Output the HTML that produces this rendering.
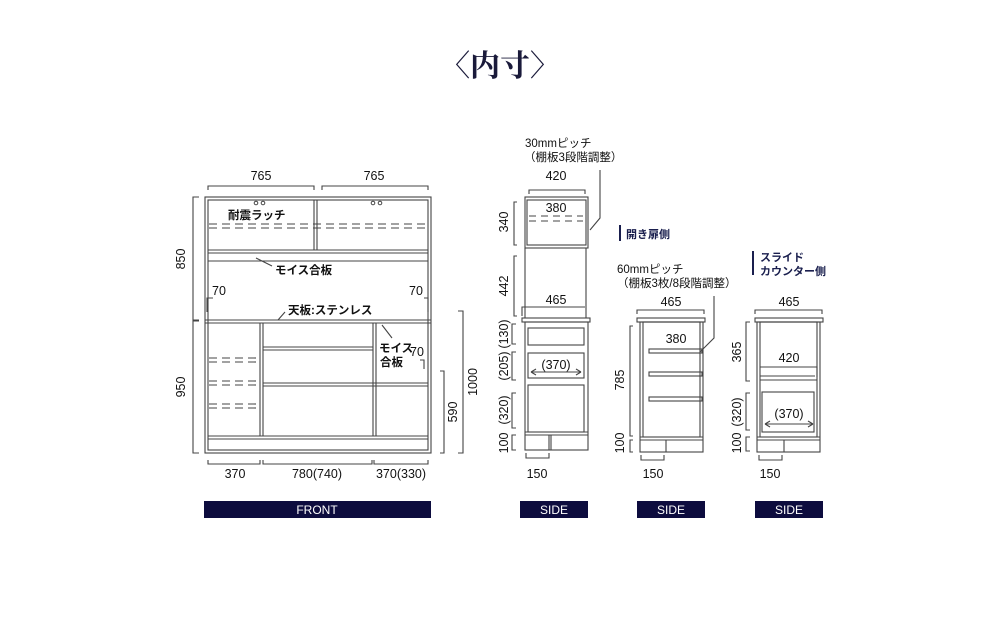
<!DOCTYPE html>
<html><head><meta charset="utf-8"><style>
html,body{margin:0;padding:0;background:#fff;}
svg{display:block;}
text{font-family:"Liberation Sans","Noto Sans CJK JP",sans-serif;fill:#111;}
</style></head><body>
<svg width="1000" height="621" viewBox="0 0 1000 621" xmlns="http://www.w3.org/2000/svg">
<text x="500" y="76" text-anchor="middle" style="font-family:'Liberation Serif','Noto Serif CJK SC',serif;font-size:30px;fill:#1a1a3a;font-weight:bold">〈内寸〉</text>

<g fill="none" stroke="#444" stroke-width="1.1">
<rect x="205" y="197" width="226" height="256"/>
<rect x="208" y="200" width="220" height="250"/>
<line x1="205" y1="320" x2="431" y2="320"/>
<line x1="205" y1="323" x2="431" y2="323"/>
<line x1="314" y1="200" x2="314" y2="250"/><line x1="317" y1="200" x2="317" y2="250"/>
<line x1="208" y1="250" x2="428" y2="250"/><line x1="208" y1="253" x2="428" y2="253"/><line x1="208" y1="261" x2="428" y2="261"/>
<line x1="260" y1="323" x2="260" y2="436"/><line x1="263" y1="323" x2="263" y2="436"/>
<line x1="373" y1="323" x2="373" y2="436"/><line x1="376" y1="323" x2="376" y2="436"/>
<line x1="263" y1="347" x2="373" y2="347"/><line x1="263" y1="350" x2="373" y2="350"/>
<line x1="263" y1="383" x2="428" y2="383"/><line x1="263" y1="386" x2="428" y2="386"/>
<line x1="208" y1="436" x2="428" y2="436"/><line x1="208" y1="439" x2="428" y2="439"/>
<g stroke-dasharray="8,5"><line x1="209" y1="224" x2="428" y2="224"/><line x1="209" y1="228" x2="428" y2="228"/>
<line x1="209" y1="358" x2="260" y2="358"/><line x1="209" y1="362" x2="260" y2="362"/>
<line x1="209" y1="381" x2="260" y2="381"/><line x1="209" y1="385" x2="260" y2="385"/>
<line x1="209" y1="404" x2="260" y2="404"/><line x1="209" y1="408" x2="260" y2="408"/></g>
<path d="M208 190V186H314V190M322 190V186H428V190"/>
<path d="M199 197H193V320H199M199 321H193V453H199"/>
<path d="M458 311H463V453H458M440 371H444V453H440"/>
<path d="M208 460V464H260V460M263 460V464H372V460M374 460V464H428V460"/>
<path d="M207 312V298H213M428 312V298H424M424 369V360H420"/>
<path d="M256 258L272 266M278 320L285 312M382 325L392 338"/>
<rect x="525" y="197" width="63" height="51"/><rect x="527" y="200" width="59" height="45"/>
<path d="M525 248V318M586 248V318M527 248H586"/>
<rect x="522" y="318" width="68" height="4"/>
<rect x="525" y="322" width="63" height="128"/>
<rect x="528" y="328" width="56" height="17"/><rect x="528" y="353" width="56" height="25"/><rect x="528" y="385" width="56" height="47"/>
<path d="M525 432H588M525 435H588M549 435V450M551 435V450"/>
<path d="M529 216H583M529 221H583" stroke-dasharray="7,5"/>
<path d="M529 194V190H585V194M517 202H514V245H517M517 256H514V316H517M516 324H512V344H516M516 352H512V380H516M516 393H512V428H516M516 435H512V450H516M526 453V458H549V453M522 316V307H585"/>
<path d="M590 230L600 218V170"/>
<path d="M531 372H581M531 372l5-3M531 372l5 3M581 372l-5-3M581 372l-5 3"/>
<rect x="637" y="318" width="68" height="4"/>
<rect x="640" y="322" width="63" height="130"/><rect x="643" y="322" width="57" height="115"/>
<path d="M640 437H703M640 440H703M666 440V452"/>
<rect x="649" y="349" width="53" height="4"/><rect x="649" y="372" width="53" height="4"/><rect x="649" y="397" width="53" height="4"/>
<path d="M637 314V310H704V314M633 326H630V436H633M633 440H630V452H633M641 455V460H664V455"/>
<path d="M700 352L714 338V296"/>
<rect x="755" y="318" width="68" height="4"/>
<rect x="757" y="322" width="63" height="130"/><rect x="760" y="322" width="57" height="115"/>
<path d="M760 367H817V377M760 376H815M760 380H817"/>
<rect x="762" y="392" width="52" height="40"/>
<path d="M757 437H820M757 440H820M784 440V452"/>
<path d="M755 314V310H822V314M750 322H746V381H750M750 393H746V430H750M750 437H746V451H750M759 455V460H782V455"/>
<path d="M765 424H813M765 424l5-3M765 424l5 3M813 424l-5-3M813 424l-5 3"/>
</g>
<g fill="none" stroke="#444"><circle cx="373" cy="203" r="1.8"/><circle cx="380" cy="203" r="1.8"/><circle cx="256" cy="203" r="1.8"/><circle cx="263" cy="203" r="1.8"/></g>

<g font-size="12.5" text-anchor="middle">
<text x="261" y="180">765</text><text x="374" y="180">765</text>
<text x="235" y="478">370</text><text x="317" y="478">780(740)</text><text x="401" y="478">370(330)</text>
<text x="219" y="295">70</text><text x="416" y="295">70</text><text x="417" y="356">70</text>
<text x="556" y="180">420</text><text x="556" y="212">380</text><text x="556" y="304">465</text><text x="556" y="369">(370)</text><text x="537" y="478">150</text>
<text x="671" y="306">465</text><text x="676" y="343">380</text><text x="653" y="478">150</text>
<text x="789" y="306">465</text><text x="789" y="362">420</text><text x="789" y="418">(370)</text><text x="770" y="478">150</text>
</g>
<g font-size="12.5" text-anchor="middle">
<text transform="translate(185 259) rotate(-90)">850</text>
<text transform="translate(185 387) rotate(-90)">950</text>
<text transform="translate(477 382) rotate(-90)">1000</text>
<text transform="translate(457 412) rotate(-90)">590</text>
<text transform="translate(508 222) rotate(-90)">340</text>
<text transform="translate(508 286) rotate(-90)">442</text>
<text transform="translate(508 334) rotate(-90)">(130)</text>
<text transform="translate(508 366) rotate(-90)">(205)</text>
<text transform="translate(508 410) rotate(-90)">(320)</text>
<text transform="translate(508 443) rotate(-90)">100</text>
<text transform="translate(624 380) rotate(-90)">785</text>
<text transform="translate(624 443) rotate(-90)">100</text>
<text transform="translate(741 352) rotate(-90)">365</text>
<text transform="translate(741 412) rotate(-90)">(320)</text>
<text transform="translate(741 443) rotate(-90)">100</text>
</g>
<g font-size="11.5" font-weight="bold">
<text x="228" y="219">耐震ラッチ</text>
<text x="275" y="274">モイス合板</text>
<text x="288" y="314">天板:ステンレス</text>
<text x="379" y="352">モイス</text><text x="380" y="366">合板</text>
</g>
<g font-size="11.5">
<text x="525" y="147">30mmピッチ</text><text x="524" y="161">（棚板3段階調整）</text>
<text x="617" y="273">60mmピッチ</text><text x="617" y="287">（棚板3枚/8段階調整）</text>
</g>
<rect x="619" y="225" width="2" height="16" fill="#1a1f4e"/>
<text x="626" y="238" font-size="11" font-weight="bold" style="fill:#1a1f4e">開き扉側</text>
<rect x="752" y="251" width="2" height="24" fill="#1a1f4e"/>
<text x="760" y="261" font-size="11" font-weight="bold" style="fill:#1a1f4e">スライド</text>
<text x="760" y="275" font-size="11" font-weight="bold" style="fill:#1a1f4e">カウンター側</text>
<g fill="#0d0c3e">
<rect x="204" y="501" width="227" height="17"/><rect x="520" y="501" width="68" height="17"/>
<rect x="637" y="501" width="68" height="17"/><rect x="755" y="501" width="68" height="17"/>
</g>
<g font-size="12" text-anchor="middle">
<text x="317" y="514" style="fill:#fff">FRONT</text><text x="554" y="514" style="fill:#fff">SIDE</text>
<text x="671" y="514" style="fill:#fff">SIDE</text><text x="789" y="514" style="fill:#fff">SIDE</text>
</g>
</svg>
</body></html>
